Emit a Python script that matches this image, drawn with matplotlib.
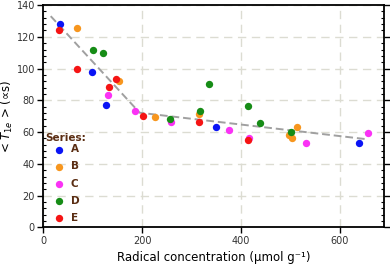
import matplotlib.pyplot as plt
from matplotlib.ticker import MultipleLocator

# Данные
a_x = [34, 99, 127, 350, 640]
a_y = [128, 97.6, 77.2, 63.3, 53.3]
b_x = [69, 153, 226, 315, 497, 504, 514]
b_y = [125.5, 92.3, 69.3, 71.3, 58.1, 56.2, 63.4]
c_x = [132, 185, 259, 376, 417, 532, 657]
c_y = [83.3, 73.2, 66.3, 61.5, 56.4, 53.3, 59.2]
d_x = [100, 120, 256, 317, 336, 415, 438, 502]
d_y = [111.5, 109.6, 68.4, 73.4, 90.4, 76.4, 65.5, 60.2]
e_x = [32, 68, 134, 147, 201, 315, 415]
e_y = [124.4, 99.5, 88.3, 93.6, 70.3, 66.3, 55.2]

# Кусочно-линейная аппроксимация
fit_x = [15, 195, 652]
fit_y = [133, 72.2, 55.6]

series = [
    ("A", a_x, a_y, "#0a14f5"),
    ("B", b_x, b_y, "#f7961e"),
    ("C", c_x, c_y, "#fa32f5"),
    ("D", d_x, d_y, "#168c16"),
    ("E", e_x, e_y, "#f51414"),
]
brown = "#5a2d12"

fig = plt.figure(figsize=(3.9, 2.65), dpi=100)
ax = fig.add_axes([0.111, 0.142, 0.874, 0.839])

ax.grid(True, color="#dcdcd2", linestyle=(0, (6, 4)), linewidth=1.0, zorder=0)
ax.plot(fit_x, fit_y, color="#a0a0a0", linestyle=(0, (4, 2)), linewidth=1.4, zorder=2)

for name, xs, ys, col in series:
    ax.scatter(xs, ys, s=28, color=col, label=name, zorder=3, linewidths=0)

ax.set_xlim(0, 690)
ax.set_ylim(0, 140)
ax.xaxis.set_major_locator(MultipleLocator(200))
ax.yaxis.set_major_locator(MultipleLocator(20))
ax.yaxis.set_minor_locator(MultipleLocator(4))

ax.tick_params(axis="x", which="major", direction="out", length=4, width=1, labelsize=7,
               labelcolor="#333333", pad=2.5)
ax.tick_params(axis="y", which="major", direction="out", length=4, width=1, labelsize=7,
               labelcolor="#333333", right=True, pad=2)
ax.tick_params(axis="y", which="minor", direction="in", length=2.5, width=0.8, right=True)

for sp in ax.spines.values():
    sp.set_linewidth(1.3)

ax.set_xlabel("Radical concentration (µmol g⁻¹)", fontsize=8.5, labelpad=3)
ax.set_ylabel(r"< $T_{1e}$ > (∝s)", fontsize=8.5, labelpad=1)

# Заголовок легенды отдельным текстом
ax.text(0.006, 0.403, "Series:", transform=ax.transAxes, fontsize=7.5, fontweight="bold",
        color=brown, va="center", ha="left")
leg = ax.legend(loc="lower left", bbox_to_anchor=(-0.005, -0.012),
                frameon=False, fontsize=7.5, handletextpad=0.1,
                labelspacing=0.68, borderaxespad=0.3)
for t in leg.get_texts():
    t.set_color(brown)
    t.set_fontweight("bold")

fig.savefig("out.png", dpi=100)
